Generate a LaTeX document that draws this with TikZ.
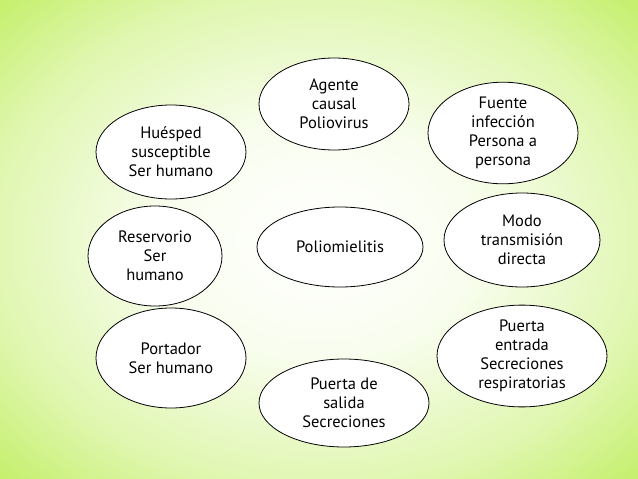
\documentclass[tikz,border=0pt]{standalone}
\usepackage{fontspec}
\setmainfont{PT Sans}
\usetikzlibrary{shapes.geometric}
\definecolor{bggreen}{RGB}{192,238,96}
\pgfdeclareradialshading{bgshade}{\pgfpoint{0bp}{0bp}}{%
  color(0bp)=(white); color(12bp)=(white!90!bggreen); color(26bp)=(white!50!bggreen); color(37bp)=(bggreen); color(50bp)=(bggreen)}
\tikzset{
  bubble/.style={ellipse, draw=black, line width=0.8pt, fill=white, inner sep=0pt,
    align=center, font=\fontsize{16.5}{19}\selectfont, text=black},
}
\begin{document}
\begin{tikzpicture}[x=1pt,y=-1pt]
\useasboundingbox (0,0) rectangle (638,479);
\shade[shading=bgshade] (0,0) rectangle (638,479);
\node[bubble, minimum width=150pt, minimum height=92pt] (agente) at (334,104) {Agente\\causal\\Poliovirus};
\node[bubble, minimum width=150pt, minimum height=100pt] (fuente) at (503,133) {Fuente\\infección\\Persona a\\persona};
\node[bubble, minimum width=150pt, minimum height=94pt] (huesped) at (171,152) {Huésped\\susceptible\\Ser humano};
\node[bubble, minimum width=134pt, minimum height=100pt] (reservorio) at (155,256) {Reservorio\\Ser\\humano};
\node[bubble, minimum width=166pt, minimum height=80pt] (polio) at (340,247) {Poliomielitis};
\node[bubble, minimum width=156pt, minimum height=94pt] (modo) at (522,240) {Modo\\transmisión\\directa};
\node[bubble, minimum width=150pt, minimum height=100pt] (portador) at (171,358) {Portador\\Ser humano};
\node[bubble, minimum width=170pt, minimum height=88pt] (salida) at (344,403) {Puerta de\\salida\\Secreciones};
\node[bubble, minimum width=170pt, minimum height=100pt] (entrada) at (522,356) {Puerta\\entrada\\Secreciones\\respiratorias};
\end{tikzpicture}
\end{document}
